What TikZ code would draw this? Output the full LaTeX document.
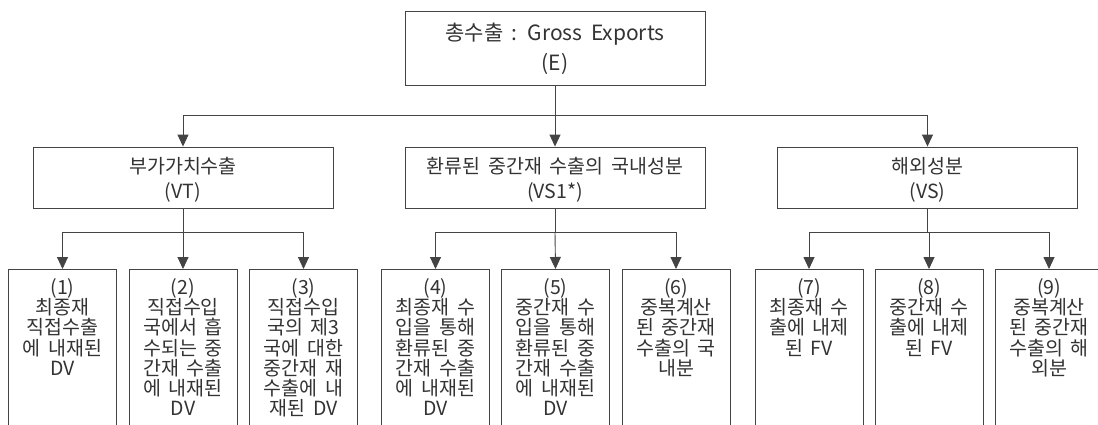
\documentclass[tikz,border=0pt]{standalone}
\usepackage{fontspec}
\setmainfont[WordSpace=1.8]{Noto Sans CJK KR}
\usetikzlibrary{arrows.meta}
\definecolor{ink}{HTML}{333333}
\definecolor{edge}{HTML}{444444}
\tikzset{
  topbox/.style={draw=edge, line width=0.9pt, minimum width=300, minimum height=74, inner sep=0},
  toptext/.style={inner sep=0, align=center, text=ink, font=\fontsize{21}{30}\selectfont},
  midbox/.style={draw=edge, line width=0.9pt, minimum width=300, minimum height=61, inner sep=0},
  midtext/.style={inner sep=0, align=center, text=ink, font=\fontsize{19.5}{25}\selectfont},
  botbox/.style={draw=edge, line width=0.9pt, minimum width=108, minimum height=200, inner sep=0, anchor=north},
  bottext/.style={anchor=north, inner sep=0, align=center, text=ink, font=\fontsize{19.5}{20.3}\selectfont},
  conn/.style={draw=edge, line width=0.9pt},
  arr/.style={conn, -{Triangle[length=12pt,width=11pt]}},
}
\begin{document}
\begin{tikzpicture}[x=1pt,y=-1pt]
\useasboundingbox (0,0) rectangle (1098,424);
\clip (0,0) rectangle (1098,424);
\fill[white] (0,0) rectangle (1098,424);

\node[topbox] (E) at (555,48) {};
\node[toptext] (Et) at ([yshift=-1pt]E.center) {총수출 : Gross Exports\\(E)};

\node[midbox] (VT) at (183,177.5) {};
\node[midbox] (VS1) at (555,177.5) {};
\node[midbox] (VS) at (927.5,177.5) {};
\node[midtext] (VTt) at ([yshift=-2pt]VT.center) {부가가치수출\\(VT)};
\node[midtext] (VS1t) at ([yshift=-2pt]VS1.center) {환류된 중간재 수출의 국내성분\\(VS1*)};
\node[midtext] (VSt) at ([yshift=-2pt]VS.center) {해외성분\\(VS)};

\coordinate (j0) at (555,115);
\draw[conn] (E.south) -- (j0);
\draw[arr] (j0) -| (VT.north);
\draw[arr] (j0) -- (VS1.north);
\draw[arr] (j0) -| (VS.north);

\foreach \n/\x in {b1/62.5, b2/183, b3/303.5, b4/435.5, b5/555.5, b6/676, b7/809, b8/929, b9/1049}
  \node[botbox] (\n) at (\x,269) {};

\node[bottext] (t1) at ([yshift=-9pt]b1.north) {(1)\\최종재\\직접수출\\에 내재된\\DV};
\node[bottext] (t2) at ([yshift=-9pt]b2.north) {(2)\\직접수입\\국에서 흡\\수되는 중\\간재 수출\\에 내재된\\DV};
\node[bottext] (t3) at ([yshift=-9pt]b3.north) {(3)\\직접수입\\국의 제3\\국에 대한\\중간재 재\\수출에 내\\재된 DV};
\node[bottext] (t4) at ([yshift=-9pt]b4.north) {(4)\\최종재 수\\입을 통해\\환류된 중\\간재 수출\\에 내재된\\DV};
\node[bottext] (t5) at ([yshift=-9pt]b5.north) {(5)\\중간재 수\\입을 통해\\환류된 중\\간재 수출\\에 내재된\\DV};
\node[bottext] (t6) at ([yshift=-9pt]b6.north) {(6)\\중복계산\\된 중간재\\수출의 국\\내분};
\node[bottext] (t7) at ([yshift=-9pt]b7.north) {(7)\\최종재 수\\출에 내제\\된 FV};
\node[bottext] (t8) at ([yshift=-9pt]b8.north) {(8)\\중간재 수\\출에 내제\\된 FV};
\node[bottext] (t9) at ([yshift=-9pt]b9.north) {(9)\\중복계산\\된 중간재\\수출의 해\\외분};

\coordinate (j1) at (183,232);
\coordinate (j2) at (555,232);
\coordinate (j3) at (927.5,232);
\draw[conn] (VT.south) -- (j1);
\draw[conn] (VS1.south) -- (j2);
\draw[conn] (VS.south) -- (j3);
\draw[arr] (j1) -| (b1.north);
\draw[arr] (j1) -- (b2.north);
\draw[arr] (j1) -| (b3.north);
\draw[arr] (j2) -| (b4.north);
\draw[arr] (j2) -- (b5.north);
\draw[arr] (j2) -| (b6.north);
\draw[arr] (j3) -| (b7.north);
\draw[arr] (j3) -| (b8.north);
\draw[arr] (j3) -| (b9.north);
\end{tikzpicture}
\end{document}
